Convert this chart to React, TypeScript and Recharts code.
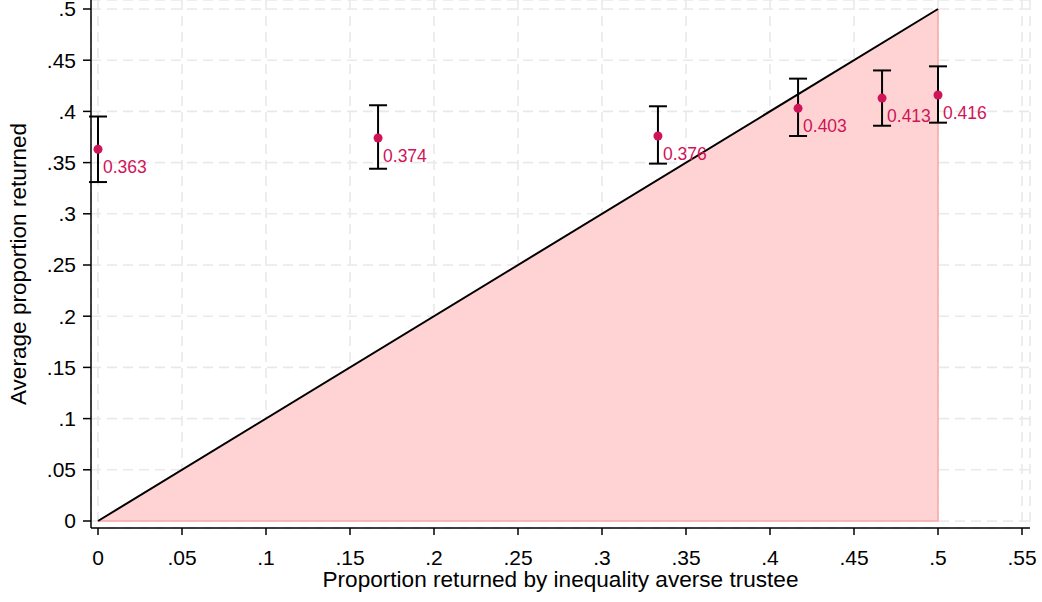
import React from 'react';
import {
  ComposedChart,
  XAxis,
  YAxis,
  CartesianGrid,
  Area,
  Line,
  Scatter,
  ErrorBar,
} from 'recharts';

// Proportion returned by inequality averse trustee (x) and average proportion returned (y)
const ineqX = [0, 0.1667, 0.3333, 0.4167, 0.4667, 0.5];
const avgReturned = [0.363, 0.374, 0.376, 0.403, 0.413, 0.416];
const ciLow = [0.331, 0.344, 0.349, 0.376, 0.386, 0.389];
const ciHigh = [0.395, 0.406, 0.405, 0.432, 0.44, 0.444];

// 45-degree reference triangle
const diagX = [0, 0.5];
const diagY = [0, 0.5];
const edgeX = [0, 0.5, 0.5];
const edgeY = [0, 0, 0.5];

const xTicks = [0, 0.05, 0.1, 0.15, 0.2, 0.25, 0.3, 0.35, 0.4, 0.45, 0.5, 0.55];
const yTicks = [0, 0.05, 0.1, 0.15, 0.2, 0.25, 0.3, 0.35, 0.4, 0.45, 0.5];

const pointData = ineqX.map((x, i) => ({
  x,
  y: avgReturned[i],
  err: [avgReturned[i] - ciLow[i], ciHigh[i] - avgReturned[i]],
}));
const diagData = diagX.map((x, i) => ({ x, y: diagY[i] }));
const edgeData = edgeX.map((x, i) => ({ x, y: edgeY[i] }));

const FONT = '"Liberation Sans", Arial, Helvetica, sans-serif';
const MARK = '#d01458';

const fmt = (v: number) => (v === 0 ? '0' : String(v).replace(/^0/, ''));

const PointShape = (props: any) => {
  const { cx, cy, payload } = props;
  if (cx == null || cy == null) return null;
  return (
    <g>
      <circle cx={cx} cy={cy} r={4.5} fill={MARK} />
      <text
        x={cx + 5}
        y={cy + 24}
        fill={MARK}
        fontSize={17.5}
        fontFamily={FONT}
        textAnchor="start"
      >
        {payload.y.toFixed(3)}
      </text>
    </g>
  );
};

export default function App() {
  return (
    <div style={{ position: 'absolute', left: 0, top: 0, background: '#fff' }}>
      <ComposedChart
        width={1042}
        height={602}
        margin={{ top: 0, right: 12, bottom: 0, left: 0 }}
        style={{ fontFamily: FONT }}
      >
        <CartesianGrid stroke="#e9e9e9" strokeWidth={1.6} strokeDasharray="10 6" />
        <XAxis
          type="number"
          dataKey="x"
          domain={[-0.004167, 0.55476]}
          allowDataOverflow
          ticks={xTicks}
          tickFormatter={fmt}
          interval={0}
          height={74}
          tickSize={7}
          tickMargin={15}
          stroke="#000"
          strokeWidth={1.5}
          tick={{ fill: '#000', fontSize: 21, fontFamily: FONT }}
          label={{
            value: 'Proportion returned by inequality averse trustee',
            position: 'insideBottom',
            offset: 15,
            fill: '#000',
            fontSize: 22.6,
            fontFamily: FONT,
          }}
        />
        <YAxis
          type="number"
          dataKey="y"
          domain={[-0.00684, 0.50879]}
          allowDataOverflow
          ticks={yTicks}
          tickFormatter={fmt}
          interval={0}
          width={91}
          tickSize={8}
          tickMargin={7}
          stroke="#000"
          strokeWidth={1.5}
          tick={{ fill: '#000', fontSize: 21, fontFamily: FONT }}
          label={{
            value: 'Average proportion returned',
            angle: -90,
            position: 'insideLeft',
            offset: 18,
            fill: '#000',
            fontSize: 22.6,
            fontFamily: FONT,
            style: { textAnchor: 'middle' },
          }}
        />
        <Area
          data={diagData}
          dataKey="y"
          type="linear"
          fill="#ffd3d3"
          fillOpacity={1}
          stroke="none"
          baseValue={0}
          isAnimationActive={false}
        />
        <Line
          data={edgeData}
          dataKey="y"
          type="linear"
          stroke="#f7a8a8"
          strokeWidth={1.5}
          dot={false}
          activeDot={false}
          isAnimationActive={false}
        />
        <Line
          data={diagData}
          dataKey="y"
          type="linear"
          stroke="#000"
          strokeWidth={2}
          dot={false}
          activeDot={false}
          isAnimationActive={false}
        />
        <Scatter data={pointData} dataKey="y" shape={PointShape} isAnimationActive={false}>
          <ErrorBar dataKey="err" direction="y" width={9} stroke="#000" strokeWidth={2} />
        </Scatter>
      </ComposedChart>
    </div>
  );
}
